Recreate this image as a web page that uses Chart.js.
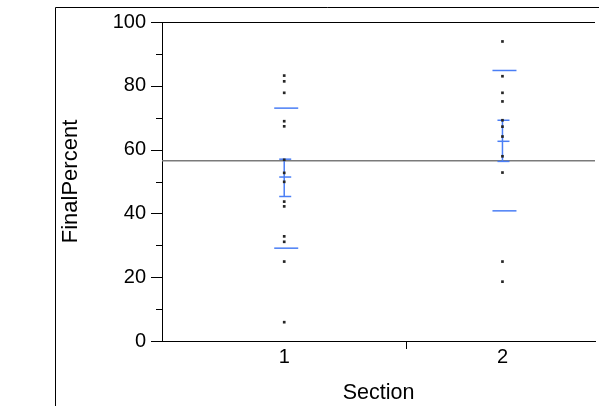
<!DOCTYPE html>
<html>
<head>
<meta charset="utf-8">
<script src="https://cdn.jsdelivr.net/npm/chart.js@4/dist/chart.umd.min.js"></script>
<style>
  html, body { margin: 0; padding: 0; background: #fff; overflow: hidden; }
</style>
</head>
<body>
<canvas id="myChart" width="599" height="406"></canvas>
<script>
'use strict';

var sections = ['1', '2'];
var section1Scores = [83.2, 81.4, 77.8, 68.9, 67.3, 56.8, 52.7, 49.9, 43.7, 42.2, 32.8, 31.1, 24.9, 5.9];
var section2Scores = [93.9, 83.0, 77.8, 75.1, 69.2, 67.2, 64.1, 57.9, 52.8, 24.9, 18.6];
var sectionMeans = [51.4, 62.6];
var ciLow = [45.3, 56.3];
var ciHigh = [57.0, 69.2];
var sdLow = [29.1, 40.8];
var sdHigh = [73.0, 84.8];
var grandMean = 56.5;
var yTicks = [0, 10, 20, 30, 40, 50, 60, 70, 80, 90, 100];

(function() {
  // JMP-style x axis: each section is as wide as its sample size
  var scores = [section1Scores, section2Scores];
  var bounds = [];
  var centers = [];
  var total = 0;
  scores.forEach(function(s) {
    centers.push(total + s.length / 2);
    total += s.length;
    bounds.push(total);
  });

  var blue = '#4a7ef5';
  var textColor = '#000';

  var decorations = {
    id: 'decorations',
    beforeDatasetsDraw: function(chart) {
      var ctx = chart.ctx;
      var area = chart.chartArea;
      var x = chart.scales.x;
      var y = chart.scales.y;
      ctx.save();

      // outer frame of the report box
      ctx.strokeStyle = '#000';
      ctx.lineWidth = 1;
      ctx.beginPath();
      ctx.moveTo(55.5, chart.height);
      ctx.lineTo(55.5, 7.5);
      ctx.lineTo(chart.width, 7.5);
      ctx.stroke();

      // top of the plot frame
      ctx.beginPath();
      ctx.moveTo(area.left, area.top + 0.5);
      ctx.lineTo(area.right, area.top + 0.5);
      ctx.stroke();

      // y tick marks, long on labelled values
      yTicks.forEach(function(v) {
        var py = Math.round(y.getPixelForValue(v)) + 0.5;
        var len = v % 20 === 0 ? 11 : 6;
        ctx.beginPath();
        ctx.moveTo(area.left - len, py);
        ctx.lineTo(area.left, py);
        ctx.stroke();
      });

      // x tick marks at the section boundaries
      bounds.slice(0, -1).forEach(function(b) {
        var px = Math.round(x.getPixelForValue(b)) + 0.5;
        ctx.beginPath();
        ctx.moveTo(px, area.bottom);
        ctx.lineTo(px, area.bottom + 8);
        ctx.stroke();
      });

      // grand mean
      var gy = y.getPixelForValue(grandMean);
      ctx.strokeStyle = '#7a7a7a';
      ctx.lineWidth = 1.5;
      ctx.beginPath();
      ctx.moveTo(area.left, gy);
      ctx.lineTo(area.right, gy);
      ctx.stroke();

      // means, confidence intervals and std dev lines
      ctx.strokeStyle = blue;
      ctx.lineWidth = 1.5;
      var hline = function(cx, v, half) {
        var py = y.getPixelForValue(v);
        ctx.beginPath();
        ctx.moveTo(cx - half, py);
        ctx.lineTo(cx + half, py);
        ctx.stroke();
      };
      sections.forEach(function(name, i) {
        var cx = x.getPixelForValue(centers[i]);
        hline(cx + 2, sdLow[i], 12);
        hline(cx + 2, sdHigh[i], 12);
        hline(cx + 1, ciLow[i], 6);
        hline(cx + 1, ciHigh[i], 6);
        hline(cx + 1, sectionMeans[i], 6);
        ctx.beginPath();
        ctx.moveTo(cx, y.getPixelForValue(ciLow[i]));
        ctx.lineTo(cx, y.getPixelForValue(ciHigh[i]));
        ctx.stroke();
      });

      ctx.restore();
    }
  };

  var datasets = scores.map(function(s, i) {
    return {
      label: 'Section ' + sections[i],
      data: s.map(function(v) { return { x: centers[i], y: v }; }),
      pointStyle: 'rect',
      pointRadius: 1.9,
      pointBackgroundColor: '#262626',
      pointBorderWidth: 0,
      showLine: false
    };
  });

  var myChart = new Chart(document.getElementById('myChart'), {
    type: 'scatter',
    data: { datasets: datasets },
    plugins: [decorations],
    options: {
      responsive: false,
      animation: false,
      devicePixelRatio: 1,
      layout: { padding: { left: 58, top: 22, right: 0, bottom: 0 } },
      plugins: {
        legend: { display: false },
        tooltip: { enabled: false }
      },
      scales: {
        x: {
          type: 'linear',
          min: 0,
          // the last section runs a little past the right edge of the picture
          max: 24.8,
          grid: { display: false, drawTicks: false },
          border: { display: true, color: '#000', width: 1 },
          afterBuildTicks: function(scale) {
            scale.ticks = centers.map(function(c) { return { value: c }; });
          },
          afterFit: function(scale) {
            scale.height = 65;
            scale.paddingLeft = 0;
            scale.paddingRight = 0;
          },
          ticks: {
            autoSkip: false,
            maxRotation: 0,
            padding: 4,
            color: textColor,
            font: { family: 'Liberation Sans, Arial', size: 20 },
            callback: function(value, index) { return sections[index]; }
          },
          title: {
            display: true,
            text: 'Section',
            color: textColor,
            padding: { top: 0, bottom: 0 },
            font: { family: 'Liberation Sans, Arial', size: 21.5 }
          }
        },
        y: {
          min: 0,
          max: 100,
          grid: { display: false, drawTicks: false },
          border: { display: true, color: '#000', width: 1 },
          afterBuildTicks: function(scale) {
            scale.ticks = yTicks.map(function(v) { return { value: v }; });
          },
          afterFit: function(scale) {
            scale.width = 104;
            scale.paddingTop = 0;
            scale.paddingBottom = 0;
          },
          ticks: {
            autoSkip: false,
            padding: 16,
            color: textColor,
            font: { family: 'Liberation Sans, Arial', size: 20 },
            callback: function(value) { return value % 20 === 0 ? value : ''; }
          },
          title: {
            display: true,
            text: 'FinalPercent',
            color: textColor,
            padding: { top: 0, bottom: 0 },
            font: { family: 'Liberation Sans, Arial', size: 22 }
          }
        }
      }
    }
  });
}());
</script>
</body>
</html>
